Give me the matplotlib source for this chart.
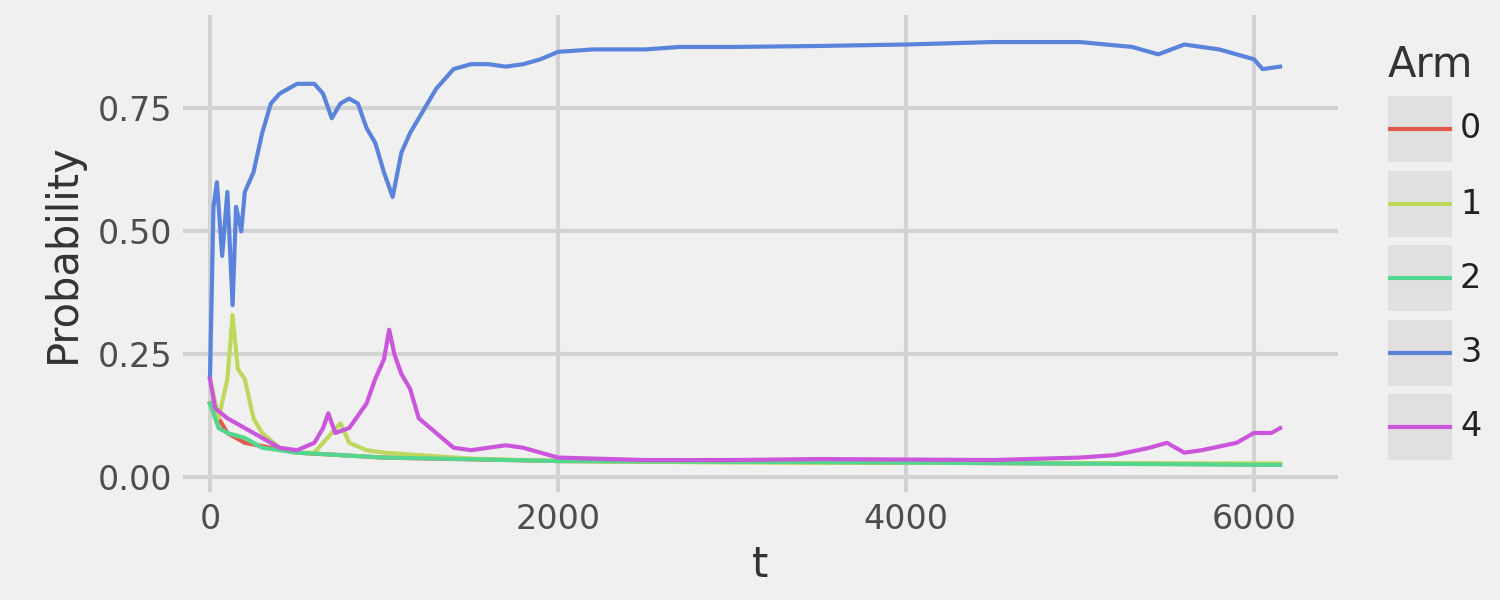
import matplotlib.pyplot as plt
from matplotlib.patches import Rectangle

# values (t, probability)
t3 = [0, 20, 40, 70, 100, 130, 150, 180, 200, 250, 300, 350, 400, 500, 600, 650, 700, 750, 800, 850,
      900, 950, 1000, 1050, 1100, 1150, 1200, 1300, 1400, 1500, 1600, 1700, 1800, 1900, 2000, 2200,
      2500, 2700, 3000, 3500, 4000, 4500, 5000, 5300, 5450, 5600, 5800, 6000, 6050, 6150]
p3 = [0.2, 0.55, 0.6, 0.45, 0.58, 0.35, 0.55, 0.5, 0.58, 0.62, 0.7, 0.76, 0.78, 0.8, 0.8, 0.78, 0.73,
      0.76, 0.77, 0.76, 0.71, 0.68, 0.62, 0.57, 0.66, 0.7, 0.73, 0.79, 0.83, 0.84, 0.84, 0.835, 0.84,
      0.85, 0.865, 0.87, 0.87, 0.875, 0.875, 0.877, 0.88, 0.885, 0.885, 0.875, 0.86, 0.88, 0.87, 0.85,
      0.83, 0.835]
t4 = [0, 30, 100, 200, 300, 400, 500, 600, 650, 680, 720, 800, 900, 950, 1000, 1030, 1060, 1100, 1150,
      1200, 1300, 1400, 1500, 1600, 1700, 1800, 1900, 2000, 2500, 3000, 3500, 4000, 4500, 5000, 5200,
      5400, 5500, 5600, 5700, 5900, 6000, 6100, 6150]
p4 = [0.2, 0.14, 0.12, 0.1, 0.08, 0.06, 0.055, 0.07, 0.1, 0.13, 0.09, 0.1, 0.15, 0.2, 0.24, 0.3, 0.25,
      0.21, 0.18, 0.12, 0.09, 0.06, 0.055, 0.06, 0.065, 0.06, 0.05, 0.04, 0.035, 0.035, 0.037, 0.036,
      0.035, 0.04, 0.045, 0.06, 0.07, 0.05, 0.055, 0.07, 0.09, 0.09, 0.1]
t1 = [0, 50, 100, 130, 160, 200, 250, 300, 400, 500, 600, 700, 750, 800, 900, 1000, 1200, 1500, 2000, 3000, 6150]
p1 = [0.2, 0.12, 0.2, 0.33, 0.22, 0.2, 0.12, 0.09, 0.06, 0.05, 0.05, 0.09, 0.11, 0.07, 0.055, 0.05,
      0.045, 0.038, 0.033, 0.03, 0.028]
t2 = [0, 50, 100, 200, 300, 500, 1000, 2000, 4000, 6150]
p2 = [0.15, 0.1, 0.09, 0.08, 0.06, 0.05, 0.04, 0.033, 0.03, 0.025]
t0 = [0, 100, 200, 500, 1000, 2000, 6150]
p0 = [0.15, 0.09, 0.07, 0.05, 0.04, 0.033, 0.026]

arms = ['0', '1', '2', '3', '4']
colors = ['#E3594D', '#BED85E', '#55D68E', '#5A84DB', '#CB56DC']
series = [(t0, p0), (t1, p1), (t2, p2), (t3, p3), (t4, p4)]

bg = '#f0f0f0'
fig = plt.figure(figsize=(15, 6), dpi=100, facecolor=bg)
ax = fig.add_axes([0.122, 0.18, 0.77, 0.795], facecolor=bg)

for (t, p), c in zip(series, colors):
    ax.plot(t, p, color=c, lw=3)

ax.set_xlim(-155, 6483)
ax.set_ylim(-0.03, 0.94)
ax.set_xticks([0, 2000, 4000, 6000])
ax.set_yticks([0, 0.25, 0.5, 0.75])
ax.set_yticklabels(['0.00', '0.25', '0.50', '0.75'])
ax.grid(color='#d2d2d2', lw=3)
ax.set_axisbelow(True)
for s in ax.spines.values():
    s.set_visible(False)
ax.tick_params(length=0, labelsize=24, colors='#4d4d4d', pad=8)
ax.set_xlabel('t', fontsize=30, color='#333333', labelpad=6)
ax.set_ylabel('Probability', fontsize=30, color='#333333', labelpad=10)

# legend drawn by hand
fig.text(1388 / 1500, 1 - 65 / 600, 'Arm', fontsize=30, color='#333333', va='center')
tops = [96, 171, 245, 320, 394]
for lab, c, y in zip(arms, colors, tops):
    fig.patches.append(Rectangle((1388 / 1500, 1 - (y + 66) / 600), 64 / 1500, 66 / 600,
                                 transform=fig.transFigure, facecolor='#e0e0e0', edgecolor='none'))
    yc = 1 - (y + 33) / 600
    fig.lines.append(plt.Line2D([1390 / 1500, 1450 / 1500], [yc, yc], transform=fig.transFigure,
                                color=c, lw=3))
    fig.text(1460 / 1500, yc, lab, fontsize=24, color='#222222', va='center')

fig.savefig('out.png', facecolor=bg)
